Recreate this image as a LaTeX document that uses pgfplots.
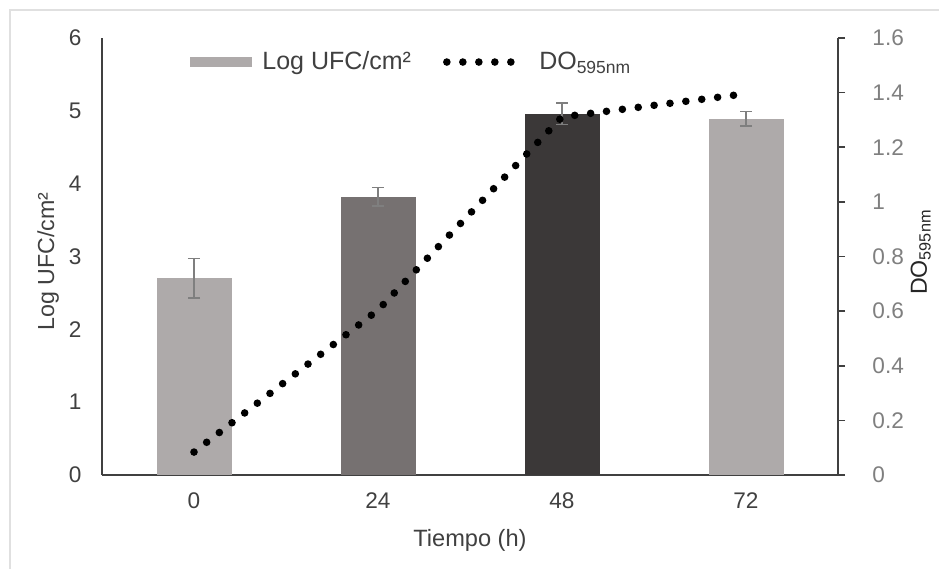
\documentclass[border=0pt]{standalone}
\usepackage{pgfplots}
\pgfplotsset{compat=1.18}
\usepackage{fontspec}
\setmainfont{Liberation Sans}
\definecolor{barA}{HTML}{AEAAAA}
\definecolor{barB}{HTML}{767171}
\definecolor{barC}{HTML}{3B3838}
\definecolor{errgray}{HTML}{7F7F7F}
\definecolor{axisgray}{HTML}{404040}
\definecolor{textgray}{HTML}{262626}
\definecolor{labgray}{HTML}{7F7F7F}
\pgfplotsset{myerr/.style={error bars/.cd, y dir=both, y explicit,
  error bar style={line width=0.8pt, draw=errgray},
  error mark=-,
  error mark options={line width=0.8pt, draw=errgray, mark size=3pt, rotate=90}}}
\begin{document}
\begin{tikzpicture}
\useasboundingbox (0,0) rectangle (469.5pt,284.5pt);
\draw[black!12, line width=0.8pt] (5pt,0pt) -- (5pt,279.5pt) -- (469.5pt,279.5pt);
\begin{axis}[
  at={(51pt,47pt)}, anchor=south west, scale only axis,
  width=368pt, height=218.5pt,
  xmin=-0.5, xmax=3.5, ymin=0, ymax=6,
  axis x line*=bottom, axis y line*=left,
  axis line style={-, draw=axisgray, line width=0.8pt},
  xtick={0,1,2,3}, xticklabels={0,24,48,72},
  ytick={0,1,2,3,4,5,6},
  major tick length=0pt,
  tick style={draw=none},
  /pgf/number format/assume math mode=true,
  ticklabel style={font=\fontsize{11.3}{13}\selectfont, text=axisgray},
  yticklabel style={xshift=-6.7pt},
  xticklabel style={yshift=-5.2pt},
  ybar, bar width=37.5pt,
  every axis y label/.style={at={(axis description cs:-0.0652,0.4886)}, anchor=base, rotate=90, font=\fontsize{11.6}{13}\selectfont, text=axisgray},
  every axis x label/.style={at={(axis description cs:0.5,-0.1625)}, anchor=base, font=\fontsize{11.8}{13}\selectfont, text=axisgray},
  xlabel={Tiempo (h)}, ylabel={Log UFC/cm²},
  legend style={at={(axis description cs:0.1196,0.945)}, anchor=west, draw=none, fill=none,
    legend columns=-1, inner sep=0pt, font=\fontsize{12.5}{14}\selectfont, text=axisgray,
    /tikz/every even column/.append style={column sep=14pt}},
  legend cell align=left,
]
\addplot[fill=barA, draw=none, bar shift=0pt,
  legend image code/.code={\fill[barA] (0pt,-2.5pt) rectangle (31pt,2.5pt); \path (34pt,0pt);},
  myerr]
  coordinates {(0,2.70) +- (0,0.27)};
\addlegendentry{Log UFC/cm²}
\addlegendimage{legend image code/.code={\draw[black, line width=3.8pt, line cap=round, dash pattern=on 0pt off 8pt] (0pt,0pt) -- (33pt,0pt); \path (44pt,0pt);}}
\addlegendentry{DO\textsubscript{595nm}}
\addplot[fill=barB, draw=none, bar shift=0pt, forget plot, myerr]
  coordinates {(1,3.82) +- (0,0.13)};
\addplot[fill=barC, draw=none, bar shift=0pt, forget plot, myerr]
  coordinates {(2,4.96) +- (0,0.15)};
\addplot[fill=barA, draw=none, bar shift=0pt, forget plot, myerr]
  coordinates {(3,4.89) +- (0,0.10)};
\end{axis}
\begin{axis}[
  at={(51pt,47pt)}, anchor=south west, scale only axis,
  width=368pt, height=218.5pt,
  xmin=-0.5, xmax=3.5, ymin=0, ymax=1.6,
  axis x line=none, axis y line*=right,
  axis line style={-, draw=axisgray, line width=0.8pt},
  ytick={0,0.2,0.4,0.6,0.8,1,1.2,1.4,1.6},
  yticklabels={0,0.2,0.4,0.6,0.8,1,1.2,1.4,1.6},
  tick align=outside, major tick length=3.5pt,
  ytick style={draw=axisgray, line width=0.8pt},
  /pgf/number format/assume math mode=true,
  yticklabel style={font=\fontsize{11.3}{13}\selectfont, text=labgray, xshift=10.2pt},
  every axis y label/.style={at={(axis description cs:1.1209,0.510)}, anchor=base, rotate=90, font=\fontsize{11.6}{13}\selectfont, text=textgray},
  ylabel={DO\textsubscript{595nm}},
  clip=false,
]
\addplot[black, line width=3.8pt, line cap=round, line join=round, dash pattern=on 0pt off 8pt]
  coordinates {(0,0.084) (1,0.604) (2,1.311) (3,1.396)};
\end{axis}
\end{tikzpicture}
\end{document}
